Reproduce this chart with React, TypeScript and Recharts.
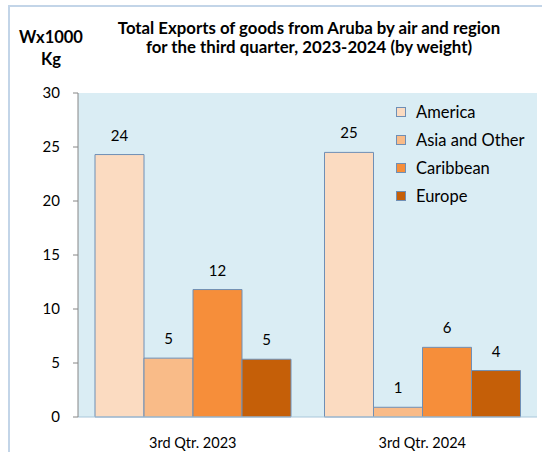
import React from 'react';
import { BarChart, Bar, XAxis, YAxis, CartesianGrid, Legend, LabelList } from 'recharts';

const categories = ['3rd Qtr. 2023', '3rd Qtr. 2024'];
const america = [24.3, 24.5];
const asiaOther = [5.45, 0.9];
const caribbean = [11.8, 6.45];
const europe = [5.35, 4.3];
const yTicks = [0, 5, 10, 15, 20, 25, 30];
const seriesNames = ['America', 'Asia and Other', 'Caribbean', 'Europe'];
const seriesColors = ['#FBDBC1', '#F9BB88', '#F68E3A', '#C55F08'];
const seriesValues = [america, asiaOther, caribbean, europe];

const data = categories.map((c, i) => {
  const row: Record<string, string | number> = { name: c };
  seriesNames.forEach((s, k) => {
    row[s] = seriesValues[k][i];
  });
  return row;
});

const FONT = 'Lato, "Open Sans", sans-serif';

const LegendContent = (props: any) => {
  const payload = props.payload || [];
  return (
    <div style={{ fontFamily: FONT, fontSize: 16.5, color: '#000' }}>
      {payload.map((p: any) => (
        <div key={p.value} style={{ display: 'flex', alignItems: 'center', height: 28 }}>
          <span
            style={{
              display: 'inline-block',
              width: 8,
              height: 8,
              background: p.color,
              border: '1px solid #6F8FB5',
              marginRight: 10,
            }}
          />
          <span>{p.value}</span>
        </div>
      ))}
    </div>
  );
};

export default function App() {
  return (
    <div style={{ position: 'absolute', left: 0, top: 0, width: 542, height: 452, background: '#fff', fontFamily: FONT }}>
      <div
        style={{
          position: 'absolute',
          left: 8,
          top: 5,
          width: 534,
          height: 447,
          borderTop: '2px solid #C3D5E8',
          borderLeft: '2px solid #C3D5E8',
          boxSizing: 'border-box',
        }}
      />
      <BarChart
        width={542}
        height={452}
        data={data}
        margin={{ top: 93, right: 5, bottom: 0, left: 0 }}
        barCategoryGap={17}
        barGap={0}
      >
        <CartesianGrid fill="#DAEDF4" stroke="none" horizontal={false} vertical={false} />
        <XAxis
          dataKey="name"
          height={35}
          axisLine={{ stroke: '#A9C6DA' }}
          tickLine={false}
          tickSize={0}
          tickMargin={21}
          tick={{ fill: '#000', fontSize: 14.5, fontFamily: FONT }}
        />
        <YAxis
          width={78}
          domain={[0, 30]}
          ticks={yTicks}
          interval={0}
          axisLine={{ stroke: '#868686' }}
          tickLine={{ stroke: '#868686' }}
          tickSize={5}
          tickMargin={13}
          tick={{ fill: '#000', fontSize: 15, fontFamily: FONT }}
        />
        <Legend
          layout="vertical"
          verticalAlign="middle"
          align="center"
          content={<LegendContent />}
          wrapperStyle={{ position: 'absolute', left: 396, top: 98, width: 140 }}
        />
        {seriesNames.map((s, k) => (
          <Bar key={s} dataKey={s} fill={seriesColors[k]} stroke="#6F8FB5" strokeWidth={1} isAnimationActive={false}>
            <LabelList
              dataKey={s}
              position="top"
              offset={14}
              formatter={(v: any) => Math.round(Number(v))}
              style={{ fill: '#000', fontSize: 15, fontFamily: FONT }}
            />
          </Bar>
        ))}
      </BarChart>
      <div
        style={{
          position: 'absolute',
          left: 9,
          top: 26,
          width: 84,
          textAlign: 'center',
          fontWeight: 700,
          fontSize: 16.5,
          lineHeight: '22px',
          color: '#000',
        }}
      >
        Wx1000
        <br />
        Kg
      </div>
      <div
        style={{
          position: 'absolute',
          left: 60,
          top: 18,
          width: 498,
          textAlign: 'center',
          fontWeight: 700,
          fontSize: 16.8,
          lineHeight: '19px',
          color: '#000',
        }}
      >
        Total Exports of goods from Aruba by air and region
        <br />
        for the third quarter, 2023-2024 (by weight)
      </div>
    </div>
  );
}
